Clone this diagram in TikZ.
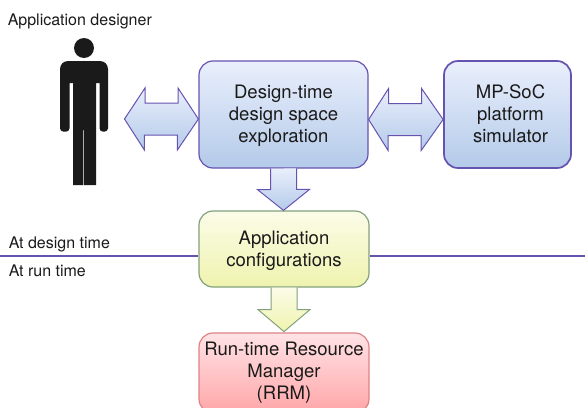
\documentclass[tikz,border=0pt]{standalone}
\usepackage{fontspec}
\setmainfont{TeX Gyre Heros}
\definecolor{bluetop}{HTML}{E9EFFC}
\definecolor{bluebot}{HTML}{B4CAE9}
\definecolor{bluedraw}{HTML}{6653B0}
\definecolor{greentop}{HTML}{FBFCE8}
\definecolor{greenbot}{HTML}{EFF3AE}
\definecolor{greendraw}{HTML}{83A07C}
\definecolor{redtop}{HTML}{FFE3E6}
\definecolor{redbot}{HTML}{FFA6A8}
\definecolor{reddraw}{HTML}{DE8287}
\definecolor{inktext}{HTML}{1A1A1A}
\newcommand{\lowerby}[1]{\rule{0pt}{#1}}
\tikzset{
  x=0.75pt,y=-0.75pt,
  box/.style={rounded corners=10.5pt,align=center,inner sep=0pt,text=inktext,
    font=\fontsize{13.9pt}{16.5pt}\selectfont,line width=0.9pt},
  bluebox/.style={box,draw=bluedraw,top color=bluetop,bottom color=bluebot},
  greenbox/.style={box,draw=greendraw,top color=greentop,bottom color=greenbot},
  redbox/.style={box,draw=reddraw,top color=redtop,bottom color=redbot},
  bluearrow/.style={draw=bluedraw,top color=bluetop,bottom color=bluebot,line width=0.75pt,line join=miter},
  greenarrow/.style={draw=greendraw,top color=greentop,bottom color=greenbot,line width=0.75pt,line join=miter},
  label/.style={anchor=base west,inner sep=0pt,text=inktext,font=\fontsize{12pt}{14pt}\selectfont},
  divider/.style={draw=bluedraw,line width=2.1pt},
}
\begin{document}
\begin{tikzpicture}
\useasboundingbox (0,0) rectangle (585,407);
\clip (0,0) rectangle (585,407);
% divider
\coordinate (dl) at (0,256);
\coordinate (dr) at (585,256);
\node[bluebox,minimum width=126.75pt,minimum height=80.25pt] (design) at (283.5,114.5)
  {\lowerby{14.1pt}Design-time\\design space\\exploration\strut};
\node[bluebox,line width=1.3pt,minimum width=95.25pt,minimum height=80.25pt] (sim) at (507.5,114.5)
  {\hspace*{4.5pt}\lowerby{14.1pt}MP-SoC\\\hspace*{4.5pt}platform\\\hspace*{4.5pt}simulator\strut};
\node[greenbox,minimum width=127.5pt,minimum height=57pt] (conf) at (284,249)
  {\lowerby{15pt}Application\\configurations\strut};
\node[redbox,minimum width=127.5pt,minimum height=60pt] (rrm) at (284,373)
  {\lowerby{11.55pt}Run-time Resource\\Manager\\(RRM)\strut};
\draw[divider] (dl) -- (conf.west |- dl);
\draw[divider] (conf.east |- dr) -- (dr);
% person
\node[circle,fill=inktext,minimum size=15pt,inner sep=0pt] (head) at (84,48) {};
\fill[inktext] (73,185) -- (73,83) -- (69.5,83) [rounded corners=2.5pt] -- (69.5,131.6) -- (60,131.6)
  [rounded corners=6pt] -- (60,61) -- (108,61) [rounded corners=2.5pt] -- (108,131.6) -- (99.5,131.6)
  [sharp corners] -- (99.5,83) -- (96,83) -- (96,185) -- (84.2,185) -- (84.2,130) -- (83.4,130) -- (83.4,185) -- cycle;
% block arrows
\coordinate (lp) at (124.5,119);
\draw[bluearrow] (lp) -- ++(20.5,-31) -- ++(0,15) -- ++(33,0) -- ++(0,-15)
  -- (design.west |- lp) -- ++(-21,31) -- ++(0,-15) -- ++(-33,0) -- ++(0,15) -- cycle;
\draw[bluearrow] (design.east |- 0,119.5) -- ++(20,-31) -- ++(0,15) -- ++(33,0) -- ++(0,-15)
  -- (sim.west |- 0,119.5) -- ++(-22,31) -- ++(0,-15) -- ++(-33,0) -- ++(0,15) -- cycle;
\draw[bluearrow] (design.south) ++(-13,0) -- ++(0,21) -- ++(-13,0) -- (conf.north -| design.south) -- ++(26,-21) -- ++(-13,0) -- ++(0,-21);
\draw[greenarrow] (conf.south) ++(-13,0) -- ++(0,22) -- ++(-13,0) -- ++(26,22) -- ++(26,-22) -- ++(-13,0) -- ++(0,-22);
% labels
\node[label] (ad) at (7.5,26) {Application designer};
\node[label] (dt) at (8.5,248) {At design time};
\node[label] (rt) at (8.5,276) {At run time};
\end{tikzpicture}
\end{document}
